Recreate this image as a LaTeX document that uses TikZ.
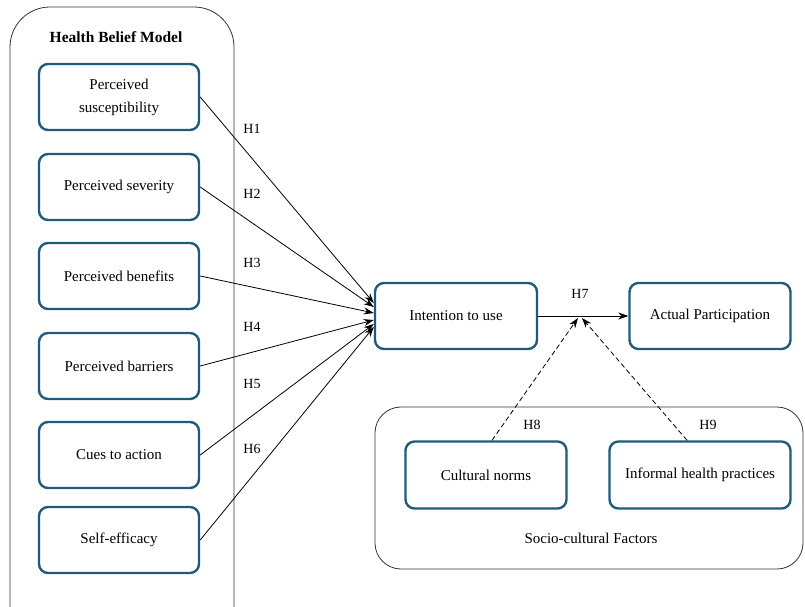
\documentclass[tikz,border=0pt]{standalone}
\usepackage{fontspec}
\setmainfont{Liberation Serif}
\usetikzlibrary{arrows.meta}
\definecolor{boxblue}{HTML}{1F5C7A}
\begin{document}
\begin{tikzpicture}[x=1pt,y=-1pt,
  var/.style={draw=boxblue,line width=2.4pt,rounded corners=9pt,fill=white,
    minimum height=66pt,align=center,font=\fontsize{15}{23}\selectfont,inner sep=2pt},
  group/.style={draw=black!80,line width=0.8pt},
  lab/.style={font=\fontsize{14}{16}\selectfont},
  arr/.style={-{Stealth[length=10pt,width=7pt]},line width=0.8pt},
  darr/.style={arr,dashed,dash pattern=on 5pt off 3pt}]
\useasboundingbox (0,0) rectangle (805,607);
% group frames
\draw[group,rounded corners=40pt] (10,612) -- (10,7) -- (234,7) -- (234,612);
\draw[group,rounded corners=26pt] (375,407) rectangle (803,569);
\node[font=\fontsize{15.5}{18}\selectfont\bfseries] (hbm) at (116,37) {Health Belief Model};
\node[font=\fontsize{15}{18}\selectfont] (scf) at (591,538) {Socio-cultural Factors};
% HBM constructs
\node[var,minimum width=160pt] (ps) at (119,97) {Perceived\\susceptibility};
\node[var,minimum width=160pt] (pv) at (119,187) {Perceived severity};
\node[var,minimum width=160pt] (pb) at (119,276) {Perceived benefits};
\node[var,minimum width=160pt] (pr) at (119,366) {Perceived barriers};
\node[var,minimum width=160pt] (ca) at (119,455) {Cues to action};
\node[var,minimum width=160pt] (se) at (119,540) {Self-efficacy};
% outcomes
\node[var,minimum width=162pt] (it) at (456,316) {Intention to use};
\node[var,minimum width=161pt] (ap) at (710,316) {Actual Participation};
% socio-cultural
\node[var,minimum width=161pt,minimum height=67pt] (cn) at (486,475) {Cultural norms};
\node[var,minimum width=181pt,minimum height=67pt] (ih) at (700,475) {Informal health practices};
% connectors
\draw[arr] (ps.east) -- ([yshift=13pt]it.west);
\draw[arr] (pv.east) -- ([yshift=9pt]it.west);
\draw[arr] (pb.east) -- ([yshift=3pt]it.west);
\draw[arr] (pr.east) -- ([yshift=-4pt]it.west);
\draw[arr] (ca.east) -- ([yshift=-8pt]it.west);
\draw[arr] (se.east) -- ([yshift=-11pt]it.west);
\draw[arr] (it.east) -- (ap.west);
\coordinate (m1) at (578,318);
\coordinate (m2) at (582,318);
\draw[darr] ([xshift=6pt]cn.north) -- (m1);
\draw[darr] ([xshift=-13pt]ih.north) -- (m2);
% labels
\node[lab] (h1) at (252,129) {H1};
\node[lab] (h2) at (252,194) {H2};
\node[lab] (h3) at (252,263) {H3};
\node[lab] (h4) at (252,327) {H4};
\node[lab] (h5) at (252,384) {H5};
\node[lab] (h6) at (252,449) {H6};
\node[lab] (h7) at (580,294) {H7};
\node[lab] (h8) at (532,425) {H8};
\node[lab] (h9) at (708,425) {H9};
\end{tikzpicture}
\end{document}
